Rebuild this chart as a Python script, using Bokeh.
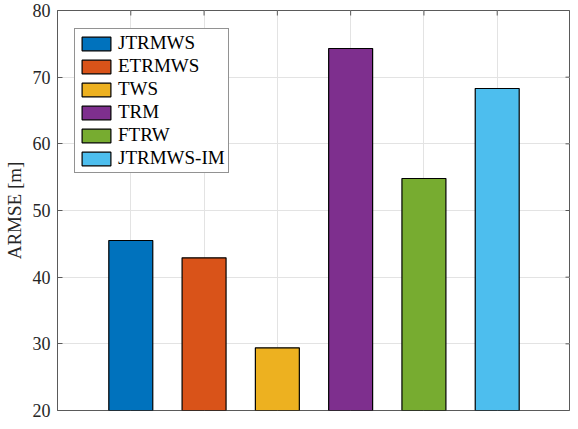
import math
from bokeh.plotting import figure
from bokeh.models import Range1d, FixedTicker, ColumnDataSource
from bokeh.embed import file_html
from bokeh.resources import INLINE

methods = ["JTRMWS", "ETRMWS", "TWS", "TRM", "FTRW", "JTRMWS-IM"]
armse = [45.5, 42.9, 29.4, 74.3, 54.8, 68.3]
colors = ["#0072BD", "#D95319", "#EDB120", "#7E2F8E", "#77AC30", "#4DBEEE"]
positions = [1, 2, 3, 4, 5, 6]
y_ticks = [20, 30, 40, 50, 60, 70, 80]
x_lo, x_hi = 0, 7
y_lo, y_hi = 20, 80

FONT = "Liberation Serif"
AXC = "#5a5a5a"

src = ColumnDataSource(dict(x=positions, top=armse, color=colors, name=methods))

p = figure(width=570, height=421, x_range=Range1d(x_lo, x_hi), y_range=Range1d(y_lo, y_hi),
           output_backend="svg", toolbar_location=None,
           min_border_left=0, min_border_right=0, min_border_top=10, min_border_bottom=11)

p.vbar(x="x", top="top", bottom=y_lo, width=0.6, fill_color="color", line_color="black",
       line_width=1.2, legend_field="name", source=src)

# inward tick marks on the right and top edges (frame clips the outer half)
p.scatter(x=[x_hi] * len(y_ticks), y=y_ticks, marker="dash", size=10, line_color=AXC, line_width=1)
p.scatter(x=positions, y=[y_hi] * len(positions), marker="dash", angle=math.pi / 2, size=10,
          line_color=AXC, line_width=1)

p.xaxis.visible = False
for ax in p.yaxis:
    ax.ticker = FixedTicker(ticks=y_ticks)
    ax.axis_line_color = AXC
    ax.major_tick_line_color = AXC
    ax.major_tick_in = 5
    ax.major_tick_out = 0
    ax.minor_tick_line_color = None
    ax.major_label_text_font = FONT
    ax.major_label_text_color = "#262626"
    ax.major_label_text_font_size = "18px"
    ax.major_label_standoff = 7
    ax.axis_label = "ARMSE [m]"
    ax.axis_label_text_font = FONT
    ax.axis_label_text_font_size = "19px"
    ax.axis_label_text_font_style = "normal"
    ax.axis_label_text_color = "#262626"
    ax.axis_label_standoff = 5

p.xgrid.ticker = FixedTicker(ticks=positions)
p.ygrid.ticker = FixedTicker(ticks=y_ticks)
p.grid.grid_line_color = "#e3e3e3"
p.grid.grid_line_width = 1

p.outline_line_color = AXC
p.background_fill_color = "white"
p.border_fill_color = "white"

lg = p.legend[0]
lg.location = (17, 237)
lg.margin = 0
lg.padding = 3
lg.spacing = 1
lg.glyph_width = 36
lg.glyph_height = 17
lg.label_height = 20
lg.label_standoff = 4
lg.label_text_font = FONT
lg.label_text_font_size = "19px"
lg.label_text_color = "black"
lg.border_line_color = "#262626"
lg.border_line_width = 1
lg.background_fill_color = "white"
lg.background_fill_alpha = 1

open("out.html", "w").write(file_html(p, INLINE))
